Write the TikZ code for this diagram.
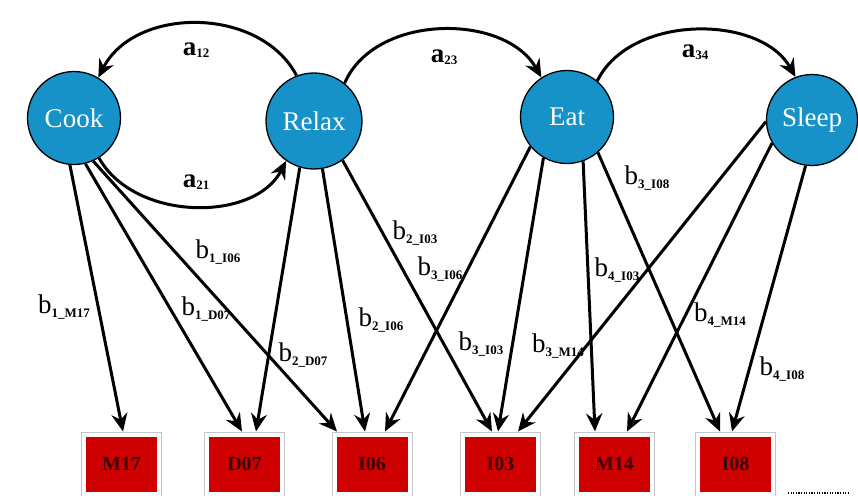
\documentclass[tikz,border=0pt]{standalone}
\usepackage{fontspec}
\setmainfont{Liberation Serif}
\usetikzlibrary{arrows.meta}
\definecolor{nodeblue}{RGB}{22,146,200}
\definecolor{boxred}{RGB}{206,0,0}
\definecolor{boxtext}{RGB}{60,0,0}
\newcommand\alab[1]{\textbf{a}\raisebox{-2pt}{\fontsize{13}{13}\selectfont\bfseries #1}}
\newcommand\blab[1]{b\raisebox{-4pt}{\fontsize{13}{13}\selectfont\bfseries #1}}
\begin{document}
\begin{tikzpicture}[x=1pt,y=-1pt,
  state/.style={circle,draw=black,line width=1.3pt,fill=nodeblue,minimum size=93pt,inner sep=0pt,text=white,font=\fontsize{27}{27}\selectfont},
  item/.style={rectangle,draw=gray!45,line width=1pt,fill=white,minimum width=80pt,minimum height=64pt,inner sep=0pt,
    font=\fontsize{20}{20}\selectfont\bfseries,text=boxtext,
    path picture={\fill[boxred] ([shift={(4.5pt,4.5pt)}]path picture bounding box.south west) rectangle ([shift={(-4.5pt,-4.5pt)}]path picture bounding box.north east);}},
  arr/.style={line width=3pt,-{Stealth[length=18pt,width=16pt,inset=6pt]}},
  lab/.style={inner sep=0pt,font=\fontsize{27}{27}\selectfont}]
\useasboundingbox (0,0) rectangle (858,495);
% states
\node[state] (cook)  at (74,118) {Cook};
\node[state,minimum size=96pt] (relax) at (314,121) {Relax};
\node[state] (eat)   at (567,117) {Eat};
\node[state,minimum size=91pt] (sleep) at (812,120) {Sleep};
% items
\node[item] (m17) at (121.5,464) {M17};
\node[item] (d07) at (244.5,464) {D07};
\node[item] (i06) at (372,464) {I06};
\node[item] (i03) at (500.5,464) {I03};
\node[item] (m14) at (614.5,464) {M14};
\node[item] (i08) at (735.5,464) {I08};
% transitions
\draw[arr] (relax.111) .. controls (260,6) and (135,6) .. (cook.59);
\draw[arr] (cook.302) .. controls (135,222) and (255,222) .. (relax.235);
\draw[arr] (relax.51) .. controls (375,13) and (505,13) .. (eat.123);
\draw[arr] (eat.50) .. controls (630,14) and (760,14) .. (sleep.111);
% emissions
\draw[arr] (cook.265) -- ([xshift=1.5pt]m17.north);
\draw[arr] (cook.284) -- ([xshift=-2.5pt]d07.north);
\draw[arr] (cook.294) -- ([xshift=-35pt]i06.north);
\draw[arr] (relax.253) -- ([xshift=11.5pt]d07.north);
\draw[arr] (relax.280) -- ([xshift=-7pt]i06.north);
\draw[arr] (relax.306) -- ([xshift=-8.5pt]i03.north);
\draw[arr] (eat.219) -- ([xshift=13pt]i06.north);
\draw[arr] (eat.240) -- ([xshift=-2.5pt]i03.north);
\draw[arr] (eat.290) -- ([xshift=-19.5pt]m14.north);
\draw[arr] (eat.311) -- ([xshift=-15.5pt]i08.north);
\draw[arr] (sleep.182) -- ([xshift=17.5pt]i03.north);
\draw[arr] (sleep.210) -- ([xshift=12.5pt]m14.north);
\draw[arr] (sleep.262) -- ([xshift=-3.5pt]i08.north);
% labels
\node[lab] (la12) at (196,50) {\alab{12}};
\node[lab] (la21) at (196,182) {\alab{21}};
\node[lab] (la23) at (444,57) {\alab{23}};
\node[lab] (la34) at (695,52) {\alab{34}};
\node[lab] (lb1m17) at (64,307) {\blab{1\_M17}};
\node[lab] (lb1d07) at (206,309) {\blab{1\_D07}};
\node[lab] (lb1i06) at (218,252) {\blab{1\_I06}};
\node[lab] (lb2d07) at (303,355) {\blab{2\_D07}};
\node[lab] (lb2i06) at (381,320) {\blab{2\_I06}};
\node[lab] (lb2i03) at (415,233) {\blab{2\_I03}};
\node[lab] (lb3i06) at (440,269) {\blab{3\_I06}};
\node[lab] (lb3i03) at (481,344) {\blab{3\_I03}};
\node[lab] (lb3m14) at (558,346) {\blab{3\_M14}};
\node[lab] (lb3i08) at (647,178) {\blab{3\_I08}};
\node[lab] (lb4i03) at (617,270) {\blab{4\_I03}};
\node[lab] (lb4m14) at (720,315) {\blab{4\_M14}};
\node[lab] (lb4i08) at (782,369) {\blab{4\_I08}};
% dots
\coordinate (dotsa) at (788,493);
\coordinate (dotsb) at (848,493);
\draw[line width=2pt,dash pattern=on 1.2pt off 1.4pt] (dotsa) -- (dotsb);
\end{tikzpicture}
\end{document}
